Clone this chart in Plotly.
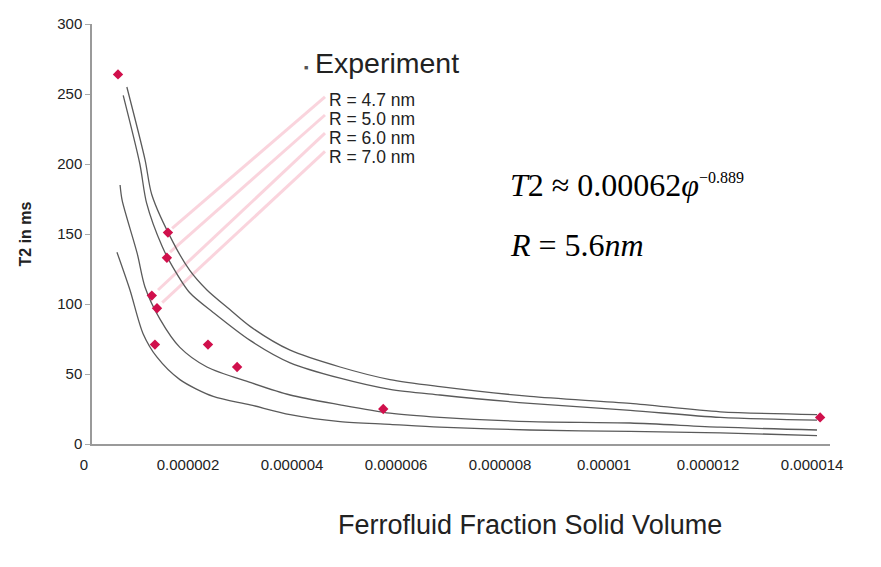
import plotly.graph_objects as go

# ---- data ----
U = 1e-6  # x values below are in units of 1e-6

exp_x = [0.50, 1.46, 1.44, 1.15, 1.25, 1.21, 2.23, 2.79, 5.60, 14.0]
exp_y = [264, 151, 133, 106, 97, 71, 71, 55, 25, 19]

curve_names = ["R = 4.7 nm", "R = 5.0 nm", "R = 6.0 nm", "R = 7.0 nm"]

r47_x = [0.67, 1.02, 1.15, 1.56, 1.88, 2.21, 2.65, 3.04, 3.81, 4.77, 5.73, 6.69, 8.42, 10.35, 12.08, 13.94]
r47_y = [255, 203, 178, 144, 124, 110, 96, 84, 67, 55, 46, 41, 34, 29, 23, 21]

r50_x = [0.60, 0.92, 1.05, 1.35, 1.56, 1.88, 2.33, 3.04, 3.81, 4.77, 5.73, 6.69, 8.42, 10.35, 12.08, 13.94]
r50_y = [249, 200, 172, 141, 126, 108, 94, 74, 58, 47, 39, 35, 29, 24, 19, 17]

r60_x = [0.54, 0.58, 0.87, 1.02, 1.31, 1.69, 2.21, 3.04, 3.81, 4.77, 5.73, 6.69, 8.42, 10.35, 12.08, 13.94]
r60_y = [185, 174, 136, 112, 89, 69, 55, 44, 35, 28, 22, 19, 16, 15, 12, 10]

r70_x = [0.48, 0.73, 0.98, 1.25, 1.69, 2.33, 3.04, 3.81, 4.77, 5.73, 6.69, 8.42, 10.35, 12.08, 13.94]
r70_y = [137, 110, 79, 62, 46, 34, 28, 21, 16, 14, 12, 10, 9, 8, 6]

curves_x = [r47_x, r50_x, r60_x, r70_x]
curves_y = [r47_y, r50_y, r60_y, r70_y]

# faint pink leader lines from the legend entries towards the data
leader_x0 = [4.48, 4.48, 4.48, 4.48]
leader_y0 = [248, 235, 222, 209]
leader_x1 = [1.54, 1.50, 1.27, 1.35]
leader_y1 = [154, 137, 110, 101]

x_tickvals = [0, 2, 4, 6, 8, 10, 12, 14]
x_ticktext = ["0", "0.000002", "0.000004", "0.000006", "0.000008", "0.00001", "0.000012", "0.000014"]
y_tickvals = [0, 50, 100, 150, 200, 250, 300]

# ---- figure ----
fig = go.Figure()

for a, b, c, d in zip(leader_x0, leader_y0, leader_x1, leader_y1):
    fig.add_trace(go.Scatter(x=[a * U, c * U], y=[b, d], mode="lines",
                             line=dict(color="rgba(245,160,180,0.45)", width=3),
                             hoverinfo="skip", showlegend=False))

for cx, cy, name in zip(curves_x, curves_y, curve_names):
    fig.add_trace(go.Scatter(x=[v * U for v in cx], y=cy, mode="lines", name=name,
                             line=dict(color="#5a5a5a", width=1.3, shape="spline", smoothing=0.8),
                             showlegend=False))

fig.add_trace(go.Scatter(x=[v * U for v in exp_x], y=exp_y, mode="markers", name="Experiment",
                         marker=dict(symbol="diamond", size=8, color="#d0104c"),
                         showlegend=False))

sans = "Liberation Sans, Arial, sans-serif"
serif = "Liberation Serif, Times New Roman, serif"

annotations = [
    dict(x=0.290, y=0.897, xref="paper", yref="paper", text="■", showarrow=False,
         font=dict(family=sans, size=7, color="#555"), xanchor="center", yanchor="middle"),
    dict(x=0.300, y=0.907, xref="paper", yref="paper", text="Experiment", showarrow=False,
         font=dict(family=sans, size=28.5, color="#222"), xanchor="left", yanchor="middle"),
]
for name, yy in zip(curve_names, [0.819, 0.774, 0.729, 0.684]):
    annotations.append(dict(x=0.318, y=yy, xref="paper", yref="paper", text=name, showarrow=False,
                            font=dict(family=sans, size=17.5, color="#222"),
                            xanchor="left", yanchor="middle"))
annotations += [
    dict(x=0.564, y=0.617, xref="paper", yref="paper",
         text="<i>T</i>2 ≈ 0.00062<i>φ</i><sup><span style='font-size:16px'>−0.889</span></sup>",
         showarrow=False, font=dict(family=serif, size=32, color="#000"),
         xanchor="left", yanchor="middle"),
    dict(x=0.564, y=0.474, xref="paper", yref="paper",
         text="<i>R</i> = 5.6<i>nm</i>",
         showarrow=False, font=dict(family=serif, size=32, color="#000"),
         xanchor="left", yanchor="middle"),
    dict(x=0.593, y=-0.193, xref="paper", yref="paper",
         text="Ferrofluid Fraction Solid Volume", showarrow=False,
         font=dict(family=sans, size=27, color="#222"),
         xanchor="center", yanchor="middle"),
]

fig.update_layout(
    width=881, height=567,
    margin=dict(l=92, r=51, t=24, b=123),
    paper_bgcolor="white", plot_bgcolor="white",
    annotations=annotations,
    xaxis=dict(range=[0, 14.19 * U], tickvals=[v * U for v in x_tickvals], ticktext=x_ticktext,
               showgrid=False, zeroline=False, showline=True, linecolor="#9a9a9a", linewidth=1.5,
               ticks="", ticklabelshift=-8, ticklabelstandoff=6,
               tickfont=dict(family=sans, size=15, color="#222")),
    yaxis=dict(range=[0, 300], tickvals=y_tickvals,
               showgrid=False, zeroline=False, showline=True, linecolor="#9a9a9a", linewidth=1.5,
               ticks="outside", ticklen=5, tickcolor="#aaa",
               tickfont=dict(family=sans, size=15, color="#222"),
               title=dict(text="<b>T2 in ms</b>", standoff=22,
                          font=dict(family=sans, size=16, color="#222"))),
)

fig.write_html("out.html")
